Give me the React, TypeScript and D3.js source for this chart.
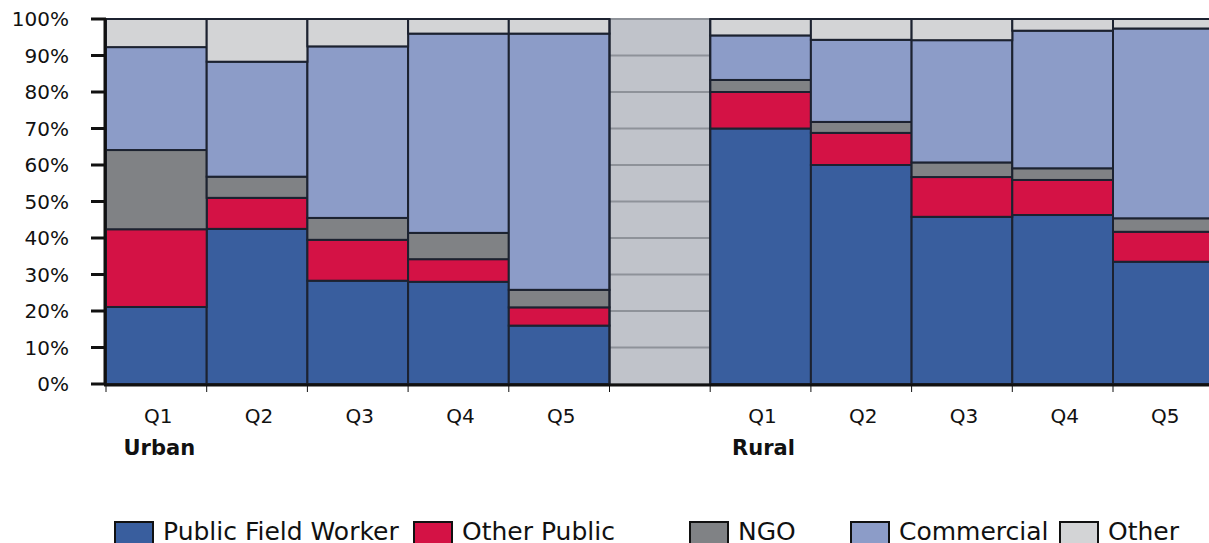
import React from "react";
import * as d3 from "d3";

const categories = ["U-Q1", "U-Q2", "U-Q3", "U-Q4", "U-Q5", "gap", "R-Q1", "R-Q2", "R-Q3", "R-Q4", "R-Q5"];
const tickLabels = ["Q1", "Q2", "Q3", "Q4", "Q5", "", "Q1", "Q2", "Q3", "Q4", "Q5"];
const groupLabels = [{ label: "Urban", at: "U-Q1" }, { label: "Rural", at: "R-Q1" }];
const seriesNames = ["Public Field Worker", "Other Public", "NGO", "Commercial", "Other"];
const publicFieldWorker = [21.1, 42.5, 28.3, 28.0, 16.0, null, 70.0, 60.0, 45.8, 46.3, 33.5];
const otherPublic = [21.3, 8.5, 11.2, 6.2, 5.0, null, 10.0, 8.8, 10.9, 9.6, 8.2];
const ngo = [21.7, 5.8, 6.0, 7.2, 4.8, null, 3.3, 3.0, 4.0, 3.2, 3.7];
const commercial = [28.2, 31.5, 47.0, 54.6, 70.2, null, 12.2, 22.5, 33.5, 37.7, 52.0];
const other = [7.7, 11.7, 7.5, 4.0, 4.0, null, 4.5, 5.7, 5.8, 3.2, 2.6];
const yTicks = [0, 10, 20, 30, 40, 50, 60, 70, 80, 90, 100];

const seriesValues = [publicFieldWorker, otherPublic, ngo, commercial, other];
const colors = ["#395e9e", "#d41245", "#808285", "#8c9cc8", "#d3d4d6"];

export default function App() {
  const W = 1209, H = 543;
  const left = 106, right = 106 + 11 * 100.7, top = 19, bottom = 384;
  const x = d3.scaleBand().domain(categories).range([left, right]).padding(0);
  const y = d3.scaleLinear().domain([0, 100]).range([bottom, top]);
  const font = "'DejaVu Sans', sans-serif";

  const rows = categories.map((c, i) => {
    const r: any = { cat: c };
    seriesNames.forEach((s, k) => (r[s] = seriesValues[k][i] ?? 0));
    return r;
  });
  const stacked = d3.stack().keys(seriesNames)(rows as any);

  const legendX = [115, 414, 690, 851, 1060];

  return (
    <div style={{ position: "absolute", left: 0, top: 0 }}>
      <svg width={W} height={H} style={{ display: "block", background: "#fff" }}>
        <rect x={x("gap")} y={top} width={x.bandwidth()} height={bottom - top} fill="#c0c3ca" />
        {yTicks.map((t) => (
          <line key={"g" + t} x1={left} x2={right} y1={y(t)} y2={y(t)} stroke="#8e9299" strokeWidth={2} />
        ))}
        {stacked.map((layer, k) => (
          <g key={seriesNames[k]}>
            {layer.map((d, i) =>
              categories[i] === "gap" ? null : (
                <rect
                  key={i}
                  x={x(categories[i])!}
                  y={y(d[1])}
                  width={x.bandwidth()}
                  height={y(d[0]) - y(d[1])}
                  fill={colors[k]}
                  stroke="#1c2230"
                  strokeWidth={2}
                />
              )
            )}
          </g>
        ))}
        <line x1={x("gap")} x2={x("gap")} y1={top} y2={bottom} stroke="#1c2230" strokeWidth={2} />
        <line x1={x("gap")! + x.bandwidth()} x2={x("gap")! + x.bandwidth()} y1={top} y2={bottom} stroke="#1c2230" strokeWidth={2} />
        <line x1={left - 1} x2={left - 1} y1={top - 1} y2={bottom + 1} stroke="#111" strokeWidth={3} />
        <line x1={left - 2} x2={right} y1={bottom + 1} y2={bottom + 1} stroke="#111" strokeWidth={3} />
        {yTicks.map((t) => (
          <g key={"t" + t}>
            <line x1={91} x2={left} y1={y(t)} y2={y(t)} stroke="#111" strokeWidth={3} />
            <text x={69} y={y(t) + 7} textAnchor="end" fontFamily={font} fontSize={20} fill="#111">
              {t + "%"}
            </text>
          </g>
        ))}
        {categories.map((c, i) => (
          <g key={"x" + c}>
            <line x1={x(c)!} x2={x(c)!} y1={bottom} y2={bottom + 8} stroke="#111" strokeWidth={1} />
            {tickLabels[i] && (
              <text x={x(c)! + x.bandwidth() / 2 + 2} y={423} textAnchor="middle" fontFamily={font} fontSize={20} fill="#111">
                {tickLabels[i]}
              </text>
            )}
          </g>
        ))}
        {groupLabels.map((g) => (
          <text key={g.label} x={x(g.at)! + x.bandwidth() / 2 + 3} y={455} textAnchor="middle" fontFamily={font} fontSize={21} fontWeight="bold" fill="#111">
            {g.label}
          </text>
        ))}
        {seriesNames.map((s, k) => (
          <g key={"l" + s}>
            <rect x={legendX[k]} y={522} width={38} height={26} fill={colors[k]} stroke="#111" strokeWidth={2} />
            <text x={legendX[k] + 48} y={540} fontFamily={font} fontSize={25} fill="#111">
              {s}
            </text>
          </g>
        ))}
      </svg>
    </div>
  );
}
